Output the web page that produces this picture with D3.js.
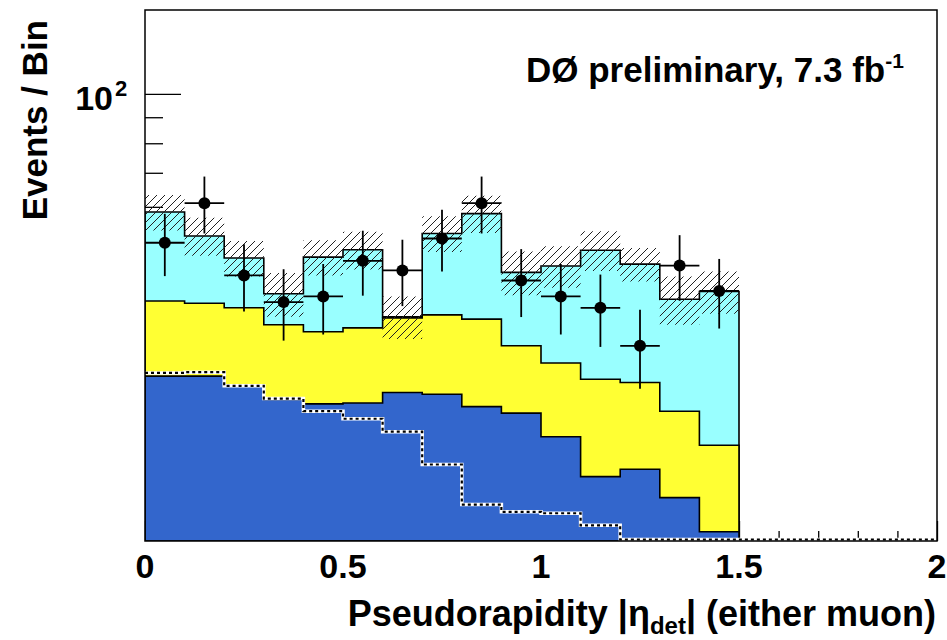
<!DOCTYPE html>
<html>
<head>
<meta charset="utf-8">
<script src="https://cdn.jsdelivr.net/npm/d3@7"></script>
<style>
body{margin:0;background:#fff}
text{font-family:"Liberation Sans",Arial,Helvetica,sans-serif;font-weight:bold;fill:#000}
</style>
</head>
<body>
<svg id="chart" width="947" height="640"></svg>
<script>
// |eta_det| bin edges, 20 bins
var binEdges = [0,0.1,0.2,0.3,0.4,0.5,0.6,0.7,0.8,0.9,1.0,1.1,1.2,1.3,1.4,1.5,1.6,1.7,1.8,1.9,2.0]

// observed events per bin (only up to 1.5)
var dataCounts = [51,61,44,39,40,47,45,52,61,43,40,38,32,46,41]

// stacked backgrounds, bottom to top
var bkgBlue   = [27.9,27.9,26.7,25.1,24.6,24.7,25.9,25.7,24.3,23.6,21.2,17.7,18.3,16.1,13.8,0,0,0,0,0]
var bkgYellow = [11.3,10.9,11.3,10.1,9.5,10.0,10.4,11.1,11.8,8.4,8.4,9.8,8.8,7.7,6.6,0,0,0,0,0]
var bkgCyan   = [19.4,13.8,9.6,5.3,13.7,14.7,0.2,16.4,22.1,12.6,16.3,21.8,19.2,15.7,20.5,0,0,0,0,0]
// uncertainty on the total prediction
var bkgErr    = [4.7,4.5,3.8,4.0,3.8,4.2,3.5,4.3,4.9,4.4,4.3,4.4,3.5,4.3,3.9]
// dashed histogram
var dashedHist = [28.3,28.4,26.7,25.2,23.8,23.0,21.7,18.7,15.6,15.1,15.0,14.2,0,0,0,0,0,0,0,0]

var xMajor = [0,0.5,1,1.5,2]
var xMinor = [0.1,0.2,0.3,0.4,0.6,0.7,0.8,0.9,1.1,1.2,1.3,1.4,1.6,1.7,1.8,1.9]
var yMajor = [100]
var yMinor = [20,30,40,50,60,70,80,90]

var COL_BLUE = "#3366cc", COL_YELLOW = "#ffff33", COL_CYAN = "#99ffff"

var L = 145, R = 937, T = 10, B = 541
var yMin = 13.23, yMax = 146.2

var svg = d3.select("#chart")
svg.append("rect").attr("width",947).attr("height",640).attr("fill","#fff")

var x = d3.scaleLinear().domain([0,2]).range([L,R])
var y = d3.scaleLog().domain([yMin,yMax]).range([B,T])
function yc(v){ return y(Math.min(Math.max(v,yMin),yMax)) }

var defs = svg.append("defs")
var pat = defs.append("pattern").attr("id","hatch").attr("patternUnits","userSpaceOnUse")
    .attr("width",8).attr("height",8)
pat.append("path").attr("d","M-1,9 L9,-1 M-2,2 L2,-2 M6,10 L10,6")
    .attr("stroke","#222").attr("stroke-width",1)
defs.append("clipPath").attr("id","frameclip").append("rect")
    .attr("x",L).attr("y",T).attr("width",R-L).attr("height",B-T)

// ticks first, the fills go over them (like root does)
function tickAxis(axis, cls){
    var g = svg.append("g").attr("class",cls).call(axis)
    g.select(".domain").remove()
    g.selectAll("line").attr("stroke","#000").attr("stroke-width",1.3)
    g.selectAll("text").remove()
    return g
}
tickAxis(d3.axisLeft(y).tickValues(yMajor).tickSize(-36),"ymaj").attr("transform","translate("+L+",0)")
tickAxis(d3.axisLeft(y).tickValues(yMinor).tickSize(-18),"ymin").attr("transform","translate("+L+",0)")
tickAxis(d3.axisBottom(x).tickValues(xMajor).tickSize(-20),"xmaj").attr("transform","translate(0,"+B+")")
tickAxis(d3.axisBottom(x).tickValues(xMinor).tickSize(-10),"xmin").attr("transform","translate(0,"+B+")")

// table for the stack
var rows = binEdges.slice(0,20).map(function(e,i){
    return {lo:e, blue:bkgBlue[i], yellow:bkgYellow[i], cyan:bkgCyan[i]}
})
var stacked = d3.stack().keys(["blue","yellow","cyan"])(rows)

var plot = svg.append("g").attr("clip-path","url(#frameclip)")

function stepPts(vals){
    var pts = vals.map(function(v,i){ return [binEdges[i], v] })
    pts.push([binEdges[vals.length], vals[vals.length-1]])
    return pts
}
var histArea = d3.area().curve(d3.curveStepAfter)
    .x(function(d){ return x(d[0]) }).y0(B).y1(function(d){ return yc(d[1]) })

// root draws cumulative histos from the bottom, total first
var layerCols = {blue:COL_BLUE, yellow:COL_YELLOW, cyan:COL_CYAN}
stacked.slice().reverse().forEach(function(s){
    var tops = s.map(function(d){ return d[1] })
    plot.append("path").datum(stepPts(tops))
        .attr("d",histArea)
        .attr("fill",layerCols[s.key])
        .attr("stroke","#000").attr("stroke-width",1.6)
})

// dashed histogram (white line under black dashes)
var histLine = d3.line().curve(d3.curveStepAfter)
    .x(function(d){ return x(d[0]) }).y(function(d){ return Math.min(yc(d[1]),B-1.5) })
plot.append("path").datum(stepPts(dashedHist)).attr("d",histLine)
    .attr("fill","none").attr("stroke","#fff").attr("stroke-width",3.5)
plot.append("path").datum(stepPts(dashedHist)).attr("d",histLine)
    .attr("fill","none").attr("stroke","#000").attr("stroke-width",2.2)
    .attr("stroke-dasharray","3,3")

// hatched error band on the total
var totals = stacked[2].slice(0,bkgErr.length).map(function(d){ return d[1] })
var band = totals.map(function(t,i){ return [binEdges[i], t-bkgErr[i], t+bkgErr[i]] })
band.push([binEdges[band.length], band[band.length-1][1], band[band.length-1][2]])
plot.append("path").datum(band)
    .attr("d", d3.area().curve(d3.curveStepAfter)
        .x(function(d){ return x(d[0]) })
        .y0(function(d){ return yc(d[1]) })
        .y1(function(d){ return yc(d[2]) }))
    .attr("fill","url(#hatch)").attr("stroke","none")

// data points, poisson errors
var pts = plot.append("g").selectAll("g").data(dataCounts).join("g")
pts.append("line")
    .attr("x1",function(d,i){ return x(binEdges[i]) })
    .attr("x2",function(d,i){ return x(binEdges[i+1]) })
    .attr("y1",function(d){ return y(d) }).attr("y2",function(d){ return y(d) })
    .attr("stroke","#000").attr("stroke-width",1.8)
pts.append("line")
    .attr("x1",function(d,i){ return x((binEdges[i]+binEdges[i+1])/2) })
    .attr("x2",function(d,i){ return x((binEdges[i]+binEdges[i+1])/2) })
    .attr("y1",function(d){ return yc(d+Math.sqrt(d)) })
    .attr("y2",function(d){ return yc(d-Math.sqrt(d)) })
    .attr("stroke","#000").attr("stroke-width",1.8)
pts.append("circle")
    .attr("cx",function(d,i){ return x((binEdges[i]+binEdges[i+1])/2) })
    .attr("cy",function(d){ return y(d) })
    .attr("r",6).attr("fill","#000")

// frame
svg.append("rect").attr("x",L).attr("y",T).attr("width",R-L).attr("height",B-T)
    .attr("fill","none").attr("stroke","#000").attr("stroke-width",1.5)

// x tick labels
svg.append("g").selectAll("text").data(xMajor).join("text")
    .attr("x",function(d){ return x(d) }).attr("y",578)
    .attr("text-anchor","middle").style("font-size","34px")
    .text(function(d){ return String(d) })

// y label 10^2
svg.append("text").attr("x",113).attr("y",110).attr("text-anchor","end")
    .style("font-size","34px").text("10")
svg.append("text").attr("x",115).attr("y",96).style("font-size","22px").text("2")

// axis titles
var xt = svg.append("text").attr("x",936).attr("y",626).attr("text-anchor","end")
    .style("font-size","36px")
xt.append("tspan").text("Pseudorapidity |\u03b7")
xt.append("tspan").attr("dy",8).style("font-size","24px").text("det")
xt.append("tspan").attr("dy",-8).text("| (either muon)")

svg.append("text").attr("transform","translate(47,20) rotate(-90)")
    .attr("text-anchor","end").style("font-size","35px").text("Events / Bin")

// label
var lab = svg.append("text").attr("x",526).attr("y",82).style("font-size","35px")
lab.append("tspan").text("D\u00d8 preliminary, 7.3 fb")
lab.append("tspan").attr("dy",-14).style("font-size","21px").text("-1")
</script>
</body>
</html>
